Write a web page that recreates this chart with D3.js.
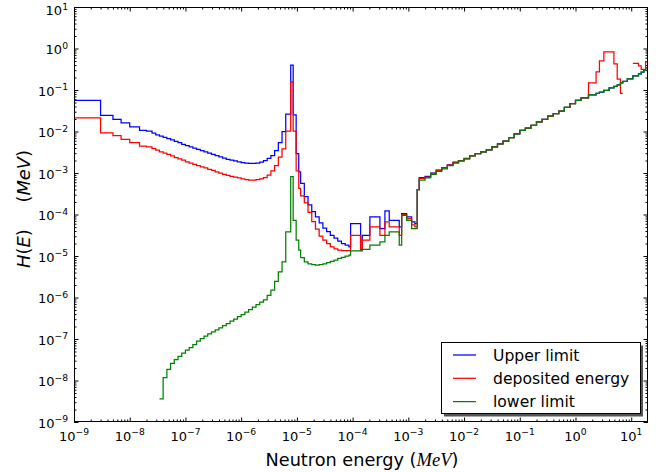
<!DOCTYPE html>
<html><head><meta charset="utf-8">
<script src="https://cdn.jsdelivr.net/npm/d3@7"></script>
<style>
body{margin:0;background:#fff}
svg{display:block}
text{font-family:"DejaVu Sans",sans-serif;fill:#000}
</style></head>
<body>
<svg id="chart" width="667" height="472"></svg>
<script>
// ---- data ----
const binEdges = [1e-9,3e-9,5e-9,7e-9,1e-8,1.5e-8,2e-8,2.512e-8,2.929e-8,3.415e-8,
 3.981e-8,4.642e-8,5.412e-8,6.31e-8,7.356e-8,8.577e-8,1e-7,1.166e-7,1.359e-7,1.585e-7,
 1.848e-7,2.154e-7,2.512e-7,2.929e-7,3.415e-7,3.981e-7,4.642e-7,5.412e-7,6.31e-7,7.356e-7,
 8.577e-7,1e-6,1.166e-6,1.359e-6,1.585e-6,1.848e-6,2.154e-6,2.512e-6,2.929e-6,3.415e-6,
 3.981e-6,4.642e-6,5.412e-6,6.31e-6,7.75e-6,8.577e-6,9.7e-6,1.08e-5,1.166e-5,1.359e-5,
 1.585e-5,1.848e-5,2.154e-5,2.512e-5,2.929e-5,3.415e-5,3.981e-5,4.642e-5,5.412e-5,6.31e-5,
 7.356e-5,8.577e-5,9.2e-5,1.39e-4,1.49e-4,2.04e-4,3.09e-4,3.8e-4,4.54e-4,6.87e-4,
 7.59e-4,9.33e-4,1.146e-3,1.315e-3,1.445e-3,1.57e-3,1.995e-3,2.512e-3,3.162e-3,3.981e-3,
 5.012e-3,6.31e-3,7.943e-3,1e-2,1.259e-2,1.585e-2,1.995e-2,2.512e-2,3.162e-2,3.981e-2,
 5.012e-2,6.31e-2,7.943e-2,0.1,0.1259,0.1585,0.1995,0.2512,0.3162,0.3981,
 0.5012,0.631,0.7943,1.0,1.259,1.71,2.34,2.69,3.23,4.0,
 4.89,5.6,6.41,7.08,8.5,10.7,13.5,15.1,16.9,18.1,20];

const upperLimit = [5.62e-2,2.45e-2,1.95e-2,1.62e-2,1.29e-2,1.07e-2,1.02e-2,9.12e-3,8.32e-3,7.76e-3,
 7.24e-3,6.76e-3,6.31e-3,5.75e-3,5.37e-3,4.90e-3,4.57e-3,4.27e-3,3.98e-3,3.72e-3,
 3.47e-3,3.24e-3,3.02e-3,2.82e-3,2.63e-3,2.45e-3,2.29e-3,2.14e-3,2.04e-3,1.95e-3,
 1.86e-3,1.78e-3,1.74e-3,1.70e-3,1.70e-3,1.74e-3,1.82e-3,2.00e-3,2.24e-3,2.63e-3,
 3.47e-3,5.37e-3,1.00e-2,2.63e-2,3.98e-1,2.51e-2,2.95e-3,1.07e-3,5.62e-4,2.69e-4,
 1.70e-4,1.18e-4,8.71e-5,6.31e-5,4.68e-5,3.89e-5,3.16e-5,2.69e-5,2.29e-5,2.00e-5,
 1.82e-5,1.66e-5,6.03e-5,1.38e-5,3.16e-5,8.71e-5,4.57e-5,1.23e-4,7.24e-5,5.01e-5,
 1.05e-4,8.71e-5,6.61e-5,6.03e-5,3.98e-4,7.76e-4,8.32e-4,1.00e-3,1.18e-3,1.35e-3,
 1.58e-3,1.82e-3,2.00e-3,2.24e-3,2.63e-3,2.95e-3,3.24e-3,3.63e-3,4.27e-3,5.01e-3,
 5.89e-3,7.08e-3,8.71e-3,1.07e-2,1.20e-2,1.41e-2,1.70e-2,1.95e-2,2.34e-2,2.69e-2,
 3.09e-2,3.80e-2,4.68e-2,5.62e-2,6.46e-2,7.59e-2,8.32e-2,8.91e-2,9.77e-2,1.12e-1,
 1.23e-1,1.32e-1,1.48e-1,1.62e-1,1.86e-1,2.19e-1,2.45e-1,2.69e-1,3.02e-1,3.47e-1];

const depositedEnergy = [2.14e-2,9.33e-3,7.94e-3,6.46e-3,5.37e-3,4.47e-3,4.27e-3,3.89e-3,3.55e-3,3.24e-3,
 3.02e-3,2.82e-3,2.57e-3,2.34e-3,2.19e-3,2.04e-3,1.86e-3,1.74e-3,1.62e-3,1.51e-3,
 1.41e-3,1.32e-3,1.23e-3,1.15e-3,1.07e-3,1.00e-3,9.33e-4,8.71e-4,8.32e-4,7.94e-4,
 7.59e-4,7.24e-4,6.92e-4,6.76e-4,6.76e-4,6.92e-4,7.24e-4,7.76e-4,8.91e-4,1.12e-3,
 1.51e-3,2.40e-3,3.80e-3,1.02e-2,1.58e-1,1.02e-2,1.12e-3,4.27e-4,2.82e-4,1.91e-4,
 1.12e-4,6.76e-5,4.47e-5,3.02e-5,2.40e-5,2.00e-5,1.66e-5,1.48e-5,1.38e-5,1.35e-5,
 1.35e-5,1.35e-5,3.16e-5,1.38e-5,2.40e-5,5.01e-5,3.16e-5,6.61e-5,5.01e-5,3.16e-5,
 1.00e-4,7.94e-5,5.62e-5,5.01e-5,3.98e-4,7.41e-4,7.94e-4,9.77e-4,1.15e-3,1.32e-3,
 1.55e-3,1.78e-3,1.95e-3,2.19e-3,2.57e-3,2.95e-3,3.24e-3,3.63e-3,4.27e-3,5.01e-3,
 5.89e-3,7.08e-3,8.71e-3,1.07e-2,1.20e-2,1.41e-2,1.70e-2,1.95e-2,2.34e-2,2.69e-2,
 3.09e-2,3.80e-2,4.68e-2,5.62e-2,6.46e-2,1.48e-1,2.75e-1,5.01e-1,8.32e-1,8.32e-1,
 4.27e-1,1.82e-1,8.32e-2,null,null,4.37e-1,3.80e-1,3.16e-1,3.02e-1,4.79e-1];

const lowerLimit = [null,null,null,null,null,null,null,null,null,3.59e-9,
 1.18e-8,1.86e-8,2.57e-8,3.20e-8,3.84e-8,4.54e-8,5.37e-8,6.22e-8,7.35e-8,8.91e-8,
 1.02e-7,1.18e-7,1.32e-7,1.48e-7,1.66e-7,1.86e-7,2.09e-7,2.34e-7,2.69e-7,3.02e-7,
 3.47e-7,3.89e-7,4.47e-7,5.13e-7,5.89e-7,6.76e-7,7.76e-7,8.71e-7,1.12e-6,1.51e-6,
 2.45e-6,4.17e-6,7.24e-6,3.80e-5,8.13e-4,7.24e-5,2.40e-5,1.38e-5,9.12e-6,7.24e-6,
 6.46e-6,6.17e-6,6.03e-6,6.17e-6,6.46e-6,6.92e-6,7.41e-6,7.94e-6,8.71e-6,9.33e-6,
 1.00e-5,1.05e-5,1.32e-5,1.32e-5,1.45e-5,1.82e-5,2.19e-5,3.16e-5,3.80e-5,1.82e-5,
 9.55e-5,7.24e-5,4.57e-5,4.57e-5,3.98e-4,6.76e-4,7.59e-4,9.33e-4,1.10e-3,1.26e-3,
 1.51e-3,1.74e-3,1.95e-3,2.19e-3,2.57e-3,2.95e-3,3.24e-3,3.63e-3,4.27e-3,5.01e-3,
 5.89e-3,7.08e-3,8.71e-3,1.07e-2,1.20e-2,1.41e-2,1.70e-2,1.95e-2,2.34e-2,2.69e-2,
 3.09e-2,3.80e-2,4.68e-2,5.62e-2,6.46e-2,7.59e-2,8.32e-2,8.91e-2,9.77e-2,1.12e-1,
 1.23e-1,1.32e-1,1.48e-1,1.62e-1,1.86e-1,2.19e-1,2.45e-1,2.69e-1,3.02e-1,3.47e-1];

const seriesNames = ["Upper limit","deposited energy","lower limit"];
const seriesColors = ["#0000ff","#ff0000","#008000"];
const xTickValues = [1e-9,1e-8,1e-7,1e-6,1e-5,1e-4,1e-3,1e-2,1e-1,1e0,1e1];
const xTickExps = ["\u22129","\u22128","\u22127","\u22126","\u22125","\u22124","\u22123","\u22122","\u22121","0","1"];
const yTickValues = [1e-9,1e-8,1e-7,1e-6,1e-5,1e-4,1e-3,1e-2,1e-1,1e0,1e1];
const yTickExps = ["\u22129","\u22128","\u22127","\u22126","\u22125","\u22124","\u22123","\u22122","\u22121","0","1"];

// ---- layout ----
const L = 74, R = 648, T = 7, B = 422;
const svg = d3.select("#chart");
const x = d3.scaleLog().domain([1e-9, 20]).range([L, R]);
const y = d3.scaleLog().domain([1e-9, 10]).range([B, T]);

svg.append("rect").attr("width",667).attr("height",472).attr("fill","#fff");

svg.append("defs").append("clipPath").attr("id","clip")
  .append("rect").attr("x",L).attr("y",T).attr("width",R-L).attr("height",B-T);

// minor tick positions
const minorX = [], minorY = [];
xTickValues.forEach(d => [2,3,4,5,6,7,8,9].forEach(m => { const v=d*m; if (v<20) minorX.push(v); }));
yTickValues.forEach(d => [2,3,4,5,6,7,8,9].forEach(m => { const v=d*m; if (v<10) minorY.push(v); }));

function ax(gen, tr, vals, size){
  const g = svg.append("g").attr("transform", tr)
    .call(gen.tickValues(vals).tickSizeInner(-size).tickSizeOuter(0).tickFormat(""));
  g.select(".domain").remove();
  g.selectAll("line").attr("stroke","#000").attr("stroke-width",1);
}
ax(d3.axisBottom(x), `translate(0,${B})`, xTickValues, 4.5);
ax(d3.axisBottom(x), `translate(0,${B})`, minorX, 2.5);
ax(d3.axisTop(x), `translate(0,${T})`, xTickValues, 4.5);
ax(d3.axisTop(x), `translate(0,${T})`, minorX, 2.5);
ax(d3.axisLeft(y), `translate(${L},0)`, yTickValues, 4.5);
ax(d3.axisLeft(y), `translate(${L},0)`, minorY, 2.5);
ax(d3.axisRight(y), `translate(${R},0)`, yTickValues, 4.5);
ax(d3.axisRight(y), `translate(${R},0)`, minorY, 2.5);

// step lines
function stepPoints(vals){
  const pts = [];
  vals.forEach((v,i) => {
    if (v == null) { pts.push(null); return; }
    pts.push([binEdges[i], v], [binEdges[i+1], v]);
  });
  return pts;
}
const line = d3.line().defined(d => d != null).x(d => x(d[0])).y(d => y(d[1]));
const plotG = svg.append("g").attr("clip-path","url(#clip)");
[upperLimit, depositedEnergy, lowerLimit].forEach((vals, k) => {
  plotG.append("path").attr("d", line(stepPoints(vals)))
    .attr("fill","none").attr("stroke", seriesColors[k]).attr("stroke-width",1.25)
    .attr("stroke-linejoin","miter");
});

// frame
svg.append("rect").attr("x",L+0.5).attr("y",T+0.5).attr("width",R-L-1).attr("height",B-T-1)
  .attr("fill","none").attr("stroke","#000").attr("stroke-width",1);

// tick labels
const xl = svg.append("g");
xTickValues.forEach((v,i) => {
  const t = xl.append("text").attr("x", x(v)).attr("y", 440.5).attr("text-anchor","middle")
    .attr("font-size", 13);
  t.append("tspan").text("10");
  t.append("tspan").attr("dy",-6).attr("font-size",9.2).text(xTickExps[i]);
});
const yl = svg.append("g");
yTickValues.forEach((v,i) => {
  const t = yl.append("text").attr("x", 68).attr("y", Math.max(y(v)+5.5, 15)).attr("text-anchor","end")
    .attr("font-size", 13);
  t.append("tspan").text("10");
  t.append("tspan").attr("dy",-5.5).attr("font-size",9.2).text(yTickExps[i]);
});

// helper: scale a label's font so its length matches the reference
function fitLength(sel, target){
  const w = sel.node().getComputedTextLength();
  const fs = +sel.attr("font-size");
  sel.attr("font-size", fs * target / w);
}

// axis labels
const xlab = svg.append("text").attr("x", 362).attr("y", 466).attr("text-anchor","middle")
  .attr("font-size", 17);
xlab.append("tspan").text("Neutron energy (");
xlab.append("tspan").attr("font-family","'Liberation Serif',serif").attr("font-style","italic").attr("font-size","1.05em").text("MeV");
xlab.append("tspan").text(")");
fitLength(xlab, 193);

const ylab = svg.append("text").attr("transform", `translate(30,${209}) rotate(-90)`)
  .attr("text-anchor","middle").attr("font-family","'Liberation Serif',serif").attr("font-size",19);
ylab.append("tspan").attr("font-style","italic").text("H");
ylab.append("tspan").text("(");
ylab.append("tspan").attr("font-style","italic").text("E");
ylab.append("tspan").text(")\u2003\u2002(");
ylab.append("tspan").attr("font-style","italic").text("MeV");
ylab.append("tspan").text(")");
fitLength(ylab, 118);

// legend
const lg = svg.append("g");
lg.append("rect").attr("x",444).attr("y",345.5).attr("width",199).attr("height",71).attr("fill","#555");
lg.append("rect").attr("x",441.5).attr("y",342.5).attr("width",199).attr("height",71)
  .attr("fill","#fff").attr("stroke","#000").attr("stroke-width",1);
seriesNames.forEach((n,i) => {
  const yy = 355 + i*23.3;
  lg.append("line").attr("x1",453).attr("x2",476).attr("y1",yy).attr("y2",yy)
    .attr("stroke", seriesColors[i]).attr("stroke-width",1.25);
  lg.append("text").attr("x",493).attr("y",yy+5.5).attr("font-size",15.6).text(n);
});
</script>
</body></html>
